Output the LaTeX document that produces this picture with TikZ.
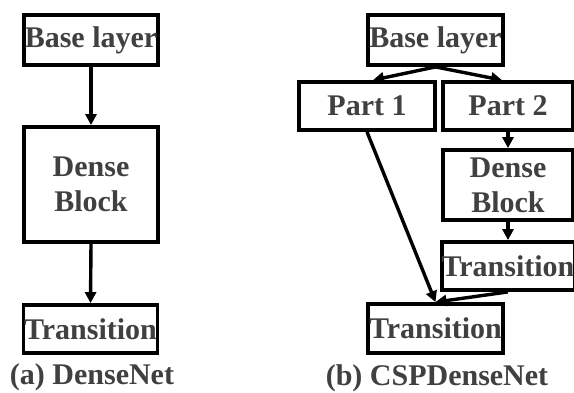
\documentclass[tikz,border=0pt]{standalone}
\usepackage{fontspec}
\setmainfont{Liberation Serif}
\usetikzlibrary{arrows.meta}
\colorlet{txtgray}{black!75}
\tikzset{blk/.style={draw=black,line width=3.8pt,inner sep=0pt,align=center,
                     text=txtgray,font=\bfseries\fontsize{30}{35}\selectfont},
         link/.style={line width=3.4pt,-{Triangle[length=11pt,width=11pt]}},
         capt/.style={text=txtgray,inner sep=0pt,font=\bfseries\fontsize{30}{32}\selectfont}
}
\begin{document}
\begin{tikzpicture}[x=1pt,y=-1pt]
  \useasboundingbox[fill=white](0,0)rectangle(574,392);
  % (a) DenseNet
  \node[blk,minimum width=134pt,minimum height=50pt](baseA)at(91,40){Base layer};
  \node[blk,minimum width=134pt,minimum height=115pt](denseA)at(91,184.5){Dense\\Block};
  \node[blk,minimum width=134pt,minimum height=48pt](transA)at(90.5,329){Transition};
  \draw[link](baseA.south)--(denseA.north);
  \draw[link](denseA.south)--(transA.north);
  \node[capt](captA)at(92,377){(a) DenseNet};
  % (b) CSPDenseNet
  \node[blk,minimum width=135pt,minimum height=50pt](baseB)at(435.5,40){Base layer};
  \node[blk,minimum width=136pt,minimum height=48pt](partA)at(367,106){Part 1};
  \node[blk,minimum width=130pt,minimum height=48pt](partB)at(508,106){Part 2};
  \node[blk,minimum width=130pt,minimum height=70pt](denseB)at(508,185){Dense\\Block};
  \node[blk,minimum width=130pt,minimum height=48pt](transB)at(508,266){Transition};
  \node[blk,minimum width=135pt,minimum height=49pt](transC)at(435.5,328.5){Transition};
  \draw[link](baseB.south)--([xshift=6pt]partA.north);
  \draw[link](baseB.south)--([xshift=-6pt]partB.north);
  \draw[link](partB.south)--(denseB.north);
  \draw[link](denseB.south)--(transB.north);
  \draw[link](partA.south)--(transC.north);
  \draw[link](transB.south)--(transC.north);
  \node[capt](captB)at(437,378){(b) CSPDenseNet};
\end{tikzpicture}
\end{document}
